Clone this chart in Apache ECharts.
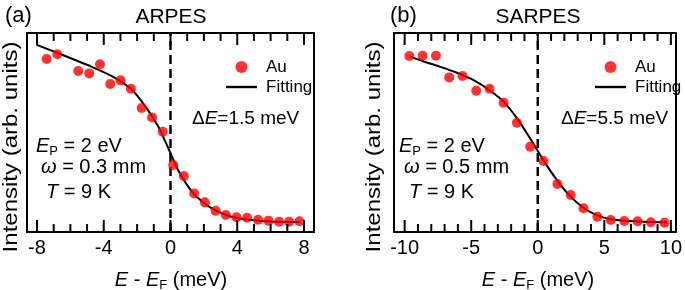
<!DOCTYPE html>
<html>
<head>
<meta charset="utf-8">
<script src="https://cdn.jsdelivr.net/npm/echarts@6/dist/echarts.min.js"></script>
<style>
  html, body { margin: 0; padding: 0; background: #fff; }
  #chart { width: 685px; height: 290px; }
</style>
</head>
<body>
<div id="chart"></div>
<script>
// (a) ARPES: measured Au points and fitting curve
const energyA = [-7.42, -6.78, -5.53, -4.87, -4.23, -3.61, -2.99, -2.37, -1.73, -1.10, -0.46, 0.16,
                 0.80, 1.42, 2.06, 2.70, 3.32, 3.96, 4.59, 5.25, 5.87, 6.51, 7.11, 7.73];
const auA = [0.869, 0.893, 0.809, 0.797, 0.843, 0.744, 0.762, 0.720, 0.623, 0.576, 0.504, 0.337,
             0.281, 0.194, 0.149, 0.107, 0.085, 0.074, 0.072, 0.062, 0.057, 0.052, 0.052, 0.054];
const fitEnergyA = [-8.02, -6.72, -4.72, -3.33, -2.33, -1.53, -0.74, -0.34, 0.06, 0.46, 1.26, 2.06,
                    2.86, 3.66, 4.86, 6.25, 7.75];
const fitA = [0.940, 0.898, 0.830, 0.775, 0.716, 0.634, 0.532, 0.460, 0.385, 0.310, 0.205, 0.142,
              0.102, 0.077, 0.060, 0.052, 0.050];

// (b) SARPES
const energyB = [-9.65, -8.65, -7.65, -6.65, -5.65, -4.62, -3.62, -2.57, -1.57, -0.57, 0.43, 1.48,
                 2.48, 3.43, 4.48, 5.48, 6.50, 7.50, 8.50, 9.53];
const auB = [0.884, 0.886, 0.886, 0.777, 0.784, 0.710, 0.720, 0.650, 0.549, 0.429, 0.357, 0.241,
             0.186, 0.119, 0.077, 0.060, 0.055, 0.054, 0.049, 0.047];
const fitEnergyB = [-9.57, -8.57, -7.32, -6.07, -4.82, -3.57, -2.57, -1.57, -0.57, 0.43, 1.43, 2.43,
                    3.43, 4.43, 5.43, 6.93, 8.43, 9.68];
const fitB = [0.881, 0.857, 0.830, 0.800, 0.763, 0.710, 0.655, 0.572, 0.470, 0.360, 0.262, 0.180,
              0.122, 0.085, 0.065, 0.055, 0.050, 0.049];

// ticks (labelled = major)
const majorTicksA = [-8, -4, 0, 4, 8];
const minorTicksA = [-7, -6, -5, -3, -2, -1, 1, 2, 3, 5, 6, 7];
const majorTicksB = [-10, -5, 0, 5, 10];
const minorTicksB = [-9, -8, -7, -6, -4, -3, -2, -1, 1, 2, 3, 4, 6, 7, 8, 9];
// plotted ranges
const rangeA = [-8.6, 8.6];
const rangeB = [-10.8, 10.35];

const FONT = '"Liberation Sans", Arial, sans-serif';
const chart = echarts.init(document.getElementById('chart'));

function pairs(xs, ys) {
  return xs.map((x, i) => [x, ys[i]]);
}

function xAxes(grid, range, labels) {
  return ['bottom', 'top'].map(pos => ({
    type: 'value', gridIndex: grid, min: range[0], max: range[1], position: pos,
    axisLine: { show: true, onZero: false, lineStyle: { color: '#000', width: 2 } },
    axisTick: { show: false },
    axisLabel: { show: pos === 'bottom', customValues: labels, color: '#000', fontSize: 20,
                 fontFamily: FONT, margin: 6 },
    splitLine: { show: false }
  }));
}

function yAxes(grid) {
  return ['left', 'right'].map(pos => ({
    type: 'value', gridIndex: grid, min: 0, max: 1, position: pos,
    axisLine: { show: true, onZero: false, lineStyle: { color: '#000', width: 2 } },
    axisTick: { show: false }, axisLabel: { show: false }, splitLine: { show: false }
  }));
}

// inward ticks on the bottom (y = 0) and top (y = 1) edges, drawn as short vertical segments
function tickSeries(xi, yi, values, len) {
  const series = [];
  values.forEach(v => {
    series.push({
      type: 'line', xAxisIndex: xi, yAxisIndex: yi, silent: true, symbol: 'none',
      data: [[v, 0], [v, len]], lineStyle: { color: '#000', width: 2 }, z: 6
    });
    series.push({
      type: 'line', xAxisIndex: xi, yAxisIndex: yi, silent: true, symbol: 'none',
      data: [[v, 1 - len], [v, 1]], lineStyle: { color: '#000', width: 2 }, z: 6
    });
  });
  return series;
}

function panelSeries(xi, yi, e, au, fe, fit, major, minor) {
  return [
    {
      name: 'Au', type: 'scatter', xAxisIndex: xi, yAxisIndex: yi,
      data: pairs(e, au), symbolSize: 10, itemStyle: { color: '#ff0000' }, z: 5
    },
    {
      name: 'Fitting', type: 'line', xAxisIndex: xi, yAxisIndex: yi,
      data: pairs(fe, fit), symbol: 'none', smooth: 0.25,
      lineStyle: { color: '#000', width: 2 }, itemStyle: { color: '#000' }, z: 4
    },
    {
      type: 'line', xAxisIndex: xi, yAxisIndex: yi, data: [[0, 0], [0, 1]], symbol: 'none',
      lineStyle: { color: '#000', width: 2.5, type: [9, 5] }, silent: true, z: 3
    }
  ].concat(tickSeries(xi, yi, major, 0.06), tickSeries(xi, yi, minor, 0.04));
}

const rich = {
  n: { fontSize: 20, fontFamily: FONT, color: '#000' },
  i: { fontSize: 20, fontFamily: FONT, fontStyle: 'italic', color: '#000' },
  s: { fontSize: 13, fontFamily: FONT, color: '#000', padding: [10, 0, 0, 0] },
  dn: { fontSize: 19, fontFamily: FONT, color: '#000' },
  di: { fontSize: 19, fontFamily: FONT, fontStyle: 'italic', color: '#000' }
};

function txt(x, y, text, align) {
  return {
    type: 'text', x: x, y: y, silent: true,
    style: { text: text, rich: rich, font: '20px ' + FONT, fill: '#000',
             textAlign: align || 'left', textVerticalAlign: 'middle' }
  };
}

function plain(x, y, text, size, align) {
  return {
    type: 'text', x: x, y: y, silent: true,
    style: { text: text, font: size + 'px ' + FONT, fill: '#000',
             textAlign: align, textVerticalAlign: 'middle' }
  };
}

function panelText(cx, left, yLabelX, title, tag, tagX, omega, deltaE, deltaX) {
  return [
    plain(tagX, 16, '(' + tag + ')', 22, 'left'),
    plain(cx, 17, title, 21, 'center'),
    txt(cx, 280, '{i|E}{n| - }{i|E}{s|F}{n| (meV)}', 'center'),
    {
      type: 'text', x: yLabelX, y: 147, rotation: Math.PI / 2, scaleX: 1.2, silent: true,
      style: { text: 'Intensity (arb. units)', font: '20px ' + FONT, fill: '#000',
               textAlign: 'center', textVerticalAlign: 'middle' }
    },
    txt(left, 146, '{i|E}{s|P}{n| = 2 eV}'),
    txt(left + 5, 167, '{i|ω}{n| = ' + omega + ' mm}'),
    txt(left + 10, 192, '{i|T}{n| = 9 K}'),
    txt(deltaX, 119, '{dn|Δ}{di|E}{dn|=' + deltaE + ' meV}')
  ];
}

function legend(left) {
  return {
    left: left, top: 52, orient: 'vertical', itemWidth: 31, itemHeight: 12, itemGap: 0,
    data: [
      { name: 'Au', icon: 'circle' },
      { name: 'Fitting', icon: 'path://M0,0H31V2.4H0Z' }
    ],
    itemStyle: { borderWidth: 0 },
    textStyle: { fontSize: 17, fontFamily: FONT, color: '#000', lineHeight: 20, padding: [0, 0, 0, 4] }
  };
}

chart.setOption({
  animation: false,
  backgroundColor: '#fff',
  grid: [
    { left: 27, top: 33, width: 287, height: 199 },
    { left: 394, top: 33, width: 282, height: 199 }
  ],
  xAxis: xAxes(0, rangeA, majorTicksA).concat(xAxes(1, rangeB, majorTicksB)),
  yAxis: yAxes(0).concat(yAxes(1)),
  legend: [legend(221), legend(590)],
  series: panelSeries(0, 0, energyA, auA, fitEnergyA, fitA, majorTicksA, minorTicksA)
    .concat(panelSeries(2, 2, energyB, auB, fitEnergyB, fitB, majorTicksB, minorTicksB)),
  graphic: panelText(171, 36, 11, 'ARPES', 'a', 5, '0.3', '1.5', 192)
    .concat(panelText(538, 399, 374, 'SARPES', 'b', 390, '0.5', '5.5', 561))
});
</script>
</body>
</html>
